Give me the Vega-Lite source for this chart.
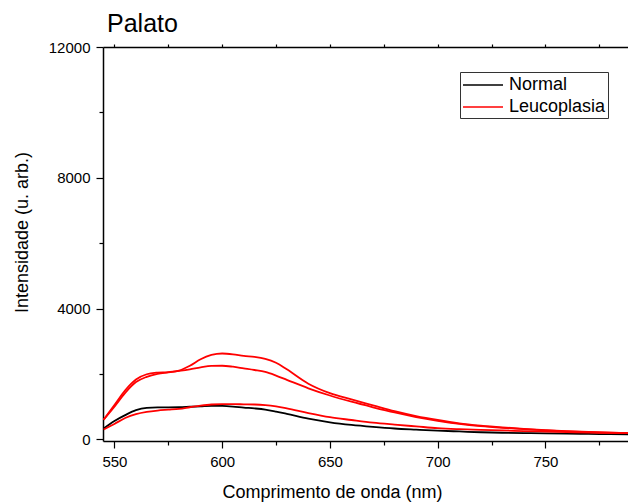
{
  "$schema": "https://vega.github.io/schema/vega-lite/v6.json",
  "width": 526,
  "height": 394,
  "autosize": {"type": "none"},
  "padding": {"left": 103, "top": 47, "right": 0, "bottom": 61},
  "background": "white",
  "config": {
    "view": {"stroke": null},
    "font": "Liberation Sans"
  },
  "title": {
    "text": "Palato",
    "anchor": "start",
    "frame": "group",
    "fontSize": 25,
    "fontWeight": "normal",
    "font": "Liberation Sans",
    "color": "#000000",
    "dx": 4,
    "dy": 23,
    "baseline": "alphabetic",
    "offset": 6
  },
  "layer": [
    {
      "data": {
        "values": [
          {"nm": 545, "v": 330, "serie": "N", "tipo": "Normal"},
          {"nm": 550, "v": 560, "serie": "N", "tipo": "Normal"},
          {"nm": 555, "v": 740, "serie": "N", "tipo": "Normal"},
          {"nm": 560, "v": 890, "serie": "N", "tipo": "Normal"},
          {"nm": 565, "v": 960, "serie": "N", "tipo": "Normal"},
          {"nm": 570, "v": 975, "serie": "N", "tipo": "Normal"},
          {"nm": 575, "v": 975, "serie": "N", "tipo": "Normal"},
          {"nm": 580, "v": 980, "serie": "N", "tipo": "Normal"},
          {"nm": 585, "v": 995, "serie": "N", "tipo": "Normal"},
          {"nm": 590, "v": 1010, "serie": "N", "tipo": "Normal"},
          {"nm": 595, "v": 1025, "serie": "N", "tipo": "Normal"},
          {"nm": 600, "v": 1020, "serie": "N", "tipo": "Normal"},
          {"nm": 605, "v": 1000, "serie": "N", "tipo": "Normal"},
          {"nm": 610, "v": 970, "serie": "N", "tipo": "Normal"},
          {"nm": 615, "v": 945, "serie": "N", "tipo": "Normal"},
          {"nm": 620, "v": 910, "serie": "N", "tipo": "Normal"},
          {"nm": 625, "v": 850, "serie": "N", "tipo": "Normal"},
          {"nm": 630, "v": 780, "serie": "N", "tipo": "Normal"},
          {"nm": 640, "v": 630, "serie": "N", "tipo": "Normal"},
          {"nm": 650, "v": 520, "serie": "N", "tipo": "Normal"},
          {"nm": 660, "v": 440, "serie": "N", "tipo": "Normal"},
          {"nm": 670, "v": 380, "serie": "N", "tipo": "Normal"},
          {"nm": 680, "v": 330, "serie": "N", "tipo": "Normal"},
          {"nm": 690, "v": 295, "serie": "N", "tipo": "Normal"},
          {"nm": 700, "v": 263, "serie": "N", "tipo": "Normal"},
          {"nm": 710, "v": 240, "serie": "N", "tipo": "Normal"},
          {"nm": 720, "v": 215, "serie": "N", "tipo": "Normal"},
          {"nm": 730, "v": 200, "serie": "N", "tipo": "Normal"},
          {"nm": 740, "v": 190, "serie": "N", "tipo": "Normal"},
          {"nm": 750, "v": 180, "serie": "N", "tipo": "Normal"},
          {"nm": 760, "v": 172, "serie": "N", "tipo": "Normal"},
          {"nm": 770, "v": 165, "serie": "N", "tipo": "Normal"},
          {"nm": 780, "v": 158, "serie": "N", "tipo": "Normal"},
          {"nm": 790, "v": 152, "serie": "N", "tipo": "Normal"},

          {"nm": 545, "v": 600, "serie": "L1", "tipo": "Leucoplasia"},
          {"nm": 550, "v": 1050, "serie": "L1", "tipo": "Leucoplasia"},
          {"nm": 555, "v": 1500, "serie": "L1", "tipo": "Leucoplasia"},
          {"nm": 560, "v": 1830, "serie": "L1", "tipo": "Leucoplasia"},
          {"nm": 565, "v": 1990, "serie": "L1", "tipo": "Leucoplasia"},
          {"nm": 570, "v": 2040, "serie": "L1", "tipo": "Leucoplasia"},
          {"nm": 575, "v": 2055, "serie": "L1", "tipo": "Leucoplasia"},
          {"nm": 580, "v": 2100, "serie": "L1", "tipo": "Leucoplasia"},
          {"nm": 585, "v": 2250, "serie": "L1", "tipo": "Leucoplasia"},
          {"nm": 590, "v": 2450, "serie": "L1", "tipo": "Leucoplasia"},
          {"nm": 595, "v": 2580, "serie": "L1", "tipo": "Leucoplasia"},
          {"nm": 600, "v": 2625, "serie": "L1", "tipo": "Leucoplasia"},
          {"nm": 605, "v": 2600, "serie": "L1", "tipo": "Leucoplasia"},
          {"nm": 610, "v": 2550, "serie": "L1", "tipo": "Leucoplasia"},
          {"nm": 615, "v": 2520, "serie": "L1", "tipo": "Leucoplasia"},
          {"nm": 620, "v": 2460, "serie": "L1", "tipo": "Leucoplasia"},
          {"nm": 625, "v": 2340, "serie": "L1", "tipo": "Leucoplasia"},
          {"nm": 630, "v": 2140, "serie": "L1", "tipo": "Leucoplasia"},
          {"nm": 640, "v": 1700, "serie": "L1", "tipo": "Leucoplasia"},
          {"nm": 650, "v": 1410, "serie": "L1", "tipo": "Leucoplasia"},
          {"nm": 660, "v": 1220, "serie": "L1", "tipo": "Leucoplasia"},
          {"nm": 670, "v": 1040, "serie": "L1", "tipo": "Leucoplasia"},
          {"nm": 680, "v": 860, "serie": "L1", "tipo": "Leucoplasia"},
          {"nm": 690, "v": 710, "serie": "L1", "tipo": "Leucoplasia"},
          {"nm": 700, "v": 590, "serie": "L1", "tipo": "Leucoplasia"},
          {"nm": 710, "v": 490, "serie": "L1", "tipo": "Leucoplasia"},
          {"nm": 720, "v": 420, "serie": "L1", "tipo": "Leucoplasia"},
          {"nm": 730, "v": 365, "serie": "L1", "tipo": "Leucoplasia"},
          {"nm": 740, "v": 320, "serie": "L1", "tipo": "Leucoplasia"},
          {"nm": 750, "v": 280, "serie": "L1", "tipo": "Leucoplasia"},
          {"nm": 760, "v": 250, "serie": "L1", "tipo": "Leucoplasia"},
          {"nm": 770, "v": 225, "serie": "L1", "tipo": "Leucoplasia"},
          {"nm": 780, "v": 205, "serie": "L1", "tipo": "Leucoplasia"},
          {"nm": 790, "v": 185, "serie": "L1", "tipo": "Leucoplasia"},

          {"nm": 545, "v": 600, "serie": "L2", "tipo": "Leucoplasia"},
          {"nm": 550, "v": 1000, "serie": "L2", "tipo": "Leucoplasia"},
          {"nm": 555, "v": 1420, "serie": "L2", "tipo": "Leucoplasia"},
          {"nm": 560, "v": 1750, "serie": "L2", "tipo": "Leucoplasia"},
          {"nm": 565, "v": 1910, "serie": "L2", "tipo": "Leucoplasia"},
          {"nm": 570, "v": 2000, "serie": "L2", "tipo": "Leucoplasia"},
          {"nm": 575, "v": 2045, "serie": "L2", "tipo": "Leucoplasia"},
          {"nm": 580, "v": 2090, "serie": "L2", "tipo": "Leucoplasia"},
          {"nm": 585, "v": 2140, "serie": "L2", "tipo": "Leucoplasia"},
          {"nm": 590, "v": 2200, "serie": "L2", "tipo": "Leucoplasia"},
          {"nm": 595, "v": 2245, "serie": "L2", "tipo": "Leucoplasia"},
          {"nm": 600, "v": 2250, "serie": "L2", "tipo": "Leucoplasia"},
          {"nm": 605, "v": 2220, "serie": "L2", "tipo": "Leucoplasia"},
          {"nm": 610, "v": 2170, "serie": "L2", "tipo": "Leucoplasia"},
          {"nm": 615, "v": 2120, "serie": "L2", "tipo": "Leucoplasia"},
          {"nm": 620, "v": 2060, "serie": "L2", "tipo": "Leucoplasia"},
          {"nm": 625, "v": 1950, "serie": "L2", "tipo": "Leucoplasia"},
          {"nm": 630, "v": 1820, "serie": "L2", "tipo": "Leucoplasia"},
          {"nm": 640, "v": 1560, "serie": "L2", "tipo": "Leucoplasia"},
          {"nm": 650, "v": 1340, "serie": "L2", "tipo": "Leucoplasia"},
          {"nm": 660, "v": 1150, "serie": "L2", "tipo": "Leucoplasia"},
          {"nm": 670, "v": 980, "serie": "L2", "tipo": "Leucoplasia"},
          {"nm": 680, "v": 820, "serie": "L2", "tipo": "Leucoplasia"},
          {"nm": 690, "v": 680, "serie": "L2", "tipo": "Leucoplasia"},
          {"nm": 700, "v": 565, "serie": "L2", "tipo": "Leucoplasia"},
          {"nm": 710, "v": 470, "serie": "L2", "tipo": "Leucoplasia"},
          {"nm": 720, "v": 400, "serie": "L2", "tipo": "Leucoplasia"},
          {"nm": 730, "v": 350, "serie": "L2", "tipo": "Leucoplasia"},
          {"nm": 740, "v": 310, "serie": "L2", "tipo": "Leucoplasia"},
          {"nm": 750, "v": 275, "serie": "L2", "tipo": "Leucoplasia"},
          {"nm": 760, "v": 245, "serie": "L2", "tipo": "Leucoplasia"},
          {"nm": 770, "v": 222, "serie": "L2", "tipo": "Leucoplasia"},
          {"nm": 780, "v": 203, "serie": "L2", "tipo": "Leucoplasia"},
          {"nm": 790, "v": 185, "serie": "L2", "tipo": "Leucoplasia"},

          {"nm": 545, "v": 300, "serie": "L3", "tipo": "Leucoplasia"},
          {"nm": 550, "v": 470, "serie": "L3", "tipo": "Leucoplasia"},
          {"nm": 555, "v": 650, "serie": "L3", "tipo": "Leucoplasia"},
          {"nm": 560, "v": 770, "serie": "L3", "tipo": "Leucoplasia"},
          {"nm": 565, "v": 840, "serie": "L3", "tipo": "Leucoplasia"},
          {"nm": 570, "v": 880, "serie": "L3", "tipo": "Leucoplasia"},
          {"nm": 575, "v": 905, "serie": "L3", "tipo": "Leucoplasia"},
          {"nm": 580, "v": 930, "serie": "L3", "tipo": "Leucoplasia"},
          {"nm": 585, "v": 980, "serie": "L3", "tipo": "Leucoplasia"},
          {"nm": 590, "v": 1030, "serie": "L3", "tipo": "Leucoplasia"},
          {"nm": 595, "v": 1065, "serie": "L3", "tipo": "Leucoplasia"},
          {"nm": 600, "v": 1075, "serie": "L3", "tipo": "Leucoplasia"},
          {"nm": 605, "v": 1075, "serie": "L3", "tipo": "Leucoplasia"},
          {"nm": 610, "v": 1070, "serie": "L3", "tipo": "Leucoplasia"},
          {"nm": 615, "v": 1065, "serie": "L3", "tipo": "Leucoplasia"},
          {"nm": 620, "v": 1045, "serie": "L3", "tipo": "Leucoplasia"},
          {"nm": 625, "v": 1005, "serie": "L3", "tipo": "Leucoplasia"},
          {"nm": 630, "v": 945, "serie": "L3", "tipo": "Leucoplasia"},
          {"nm": 640, "v": 800, "serie": "L3", "tipo": "Leucoplasia"},
          {"nm": 650, "v": 675, "serie": "L3", "tipo": "Leucoplasia"},
          {"nm": 660, "v": 590, "serie": "L3", "tipo": "Leucoplasia"},
          {"nm": 670, "v": 510, "serie": "L3", "tipo": "Leucoplasia"},
          {"nm": 680, "v": 450, "serie": "L3", "tipo": "Leucoplasia"},
          {"nm": 690, "v": 395, "serie": "L3", "tipo": "Leucoplasia"},
          {"nm": 700, "v": 340, "serie": "L3", "tipo": "Leucoplasia"},
          {"nm": 710, "v": 310, "serie": "L3", "tipo": "Leucoplasia"},
          {"nm": 720, "v": 290, "serie": "L3", "tipo": "Leucoplasia"},
          {"nm": 730, "v": 270, "serie": "L3", "tipo": "Leucoplasia"},
          {"nm": 740, "v": 250, "serie": "L3", "tipo": "Leucoplasia"},
          {"nm": 750, "v": 235, "serie": "L3", "tipo": "Leucoplasia"},
          {"nm": 760, "v": 220, "serie": "L3", "tipo": "Leucoplasia"},
          {"nm": 770, "v": 205, "serie": "L3", "tipo": "Leucoplasia"},
          {"nm": 780, "v": 195, "serie": "L3", "tipo": "Leucoplasia"},
          {"nm": 790, "v": 185, "serie": "L3", "tipo": "Leucoplasia"}
        ]
      },
      "mark": {"type": "line", "interpolate": "monotone", "strokeWidth": 1.8, "clip": true},
      "encoding": {
        "x": {
          "field": "nm",
          "type": "quantitative",
          "scale": {"domain": [544.7, 788.8], "nice": false, "zero": false},
          "axis": {
            "orient": "bottom",
            "title": "Comprimento de onda (nm)",
            "titleFont": "Liberation Sans",
            "titleFontSize": 18,
            "titleFontWeight": "normal",
            "titleColor": "#000000",
            "titleX": 229,
            "titleY": 56,
            "titleAlign": "center",
            "titleBaseline": "alphabetic",
            "values": [550, 600, 650, 700, 750],
            "format": "d",
            "labelFont": "Liberation Sans",
            "labelFontSize": 15,
            "labelColor": "#000000",
            "labelPadding": 6,
            "labelFlush": false,
            "labelOverlap": false,
            "tickSize": 7,
            "tickColor": "#000000",
            "tickWidth": 1.2,
            "domainColor": "#000000",
            "domainWidth": 1.5,
            "grid": false
          }
        },
        "y": {
          "field": "v",
          "type": "quantitative",
          "scale": {"domain": [-52, 12000], "nice": false, "zero": false},
          "axis": {
            "title": "Intensidade (u. arb.)",
            "titleFont": "Liberation Sans",
            "titleFontSize": 18,
            "titleFontWeight": "normal",
            "titleColor": "#000000",
            "titleAngle": -90,
            "titleX": -76,
            "titleY": 185,
            "titleAlign": "center",
            "titleBaseline": "alphabetic",
            "values": [0, 4000, 8000, 12000],
            "format": "d",
            "labelFont": "Liberation Sans",
            "labelFontSize": 15,
            "labelColor": "#000000",
            "labelPadding": 6,
            "labelFlush": false,
            "labelOverlap": false,
            "tickSize": 7,
            "tickColor": "#000000",
            "tickWidth": 1.2,
            "domainColor": "#000000",
            "domainWidth": 1.5,
            "grid": false
          }
        },
        "color": {
          "field": "tipo",
          "type": "nominal",
          "scale": {"domain": ["Normal", "Leucoplasia"], "range": ["#000000", "#ff0000"]},
          "legend": {
            "title": null,
            "orient": "none",
            "legendX": 357,
            "legendY": 25,
            "direction": "vertical",
            "symbolType": "M-2,0H2",
            "symbolSize": 400,
            "symbolOffset": 10,
            "symbolStrokeWidth": 1.5,
            "labelOffset": 15,
            "labelFont": "Liberation Sans",
            "labelFontSize": 18,
            "labelColor": "#000000",
            "rowPadding": 2,
            "padding": 2,
            "strokeColor": "#333333",
            "cornerRadius": 0,
            "fillColor": "white"
          }
        },
        "detail": {"field": "serie", "type": "nominal"},
        "order": {"field": "nm", "type": "quantitative"}
      }
    },
    {
      "data": {"values": [{"nm": 600}]},
      "mark": {"type": "point", "opacity": 0},
      "encoding": {
        "x": {
          "field": "nm",
          "type": "quantitative",
          "axis": {
            "orient": "top",
            "title": null,
            "values": [550, 575, 600, 625, 650, 675, 700, 725, 750, 775],
            "labels": false,
            "tickSize": 3,
            "tickColor": "#000000",
            "tickWidth": 1.2,
            "domainColor": "#000000",
            "domainWidth": 1.5,
            "grid": false
          }
        }
      }
    },
    {
      "data": {"values": [{"nm": 600}]},
      "mark": {"type": "point", "opacity": 0},
      "encoding": {
        "x": {
          "field": "nm",
          "type": "quantitative",
          "axis": {
            "orient": "bottom",
            "title": null,
            "values": [575, 625, 675, 725, 775],
            "labels": false,
            "domain": false,
            "tickSize": 4,
            "tickColor": "#000000",
            "tickWidth": 1.2,
            "grid": false
          }
        }
      }
    },
    {
      "data": {"values": [{"v": 0}]},
      "mark": {"type": "point", "opacity": 0},
      "encoding": {
        "y": {
          "field": "v",
          "type": "quantitative",
          "axis": {
            "orient": "left",
            "title": null,
            "values": [2000, 6000, 10000],
            "labels": false,
            "domain": false,
            "tickSize": 4,
            "tickColor": "#000000",
            "tickWidth": 1.2,
            "grid": false
          }
        }
      }
    }
  ],
  "resolve": {"axis": {"x": "independent", "y": "independent"}}
}
